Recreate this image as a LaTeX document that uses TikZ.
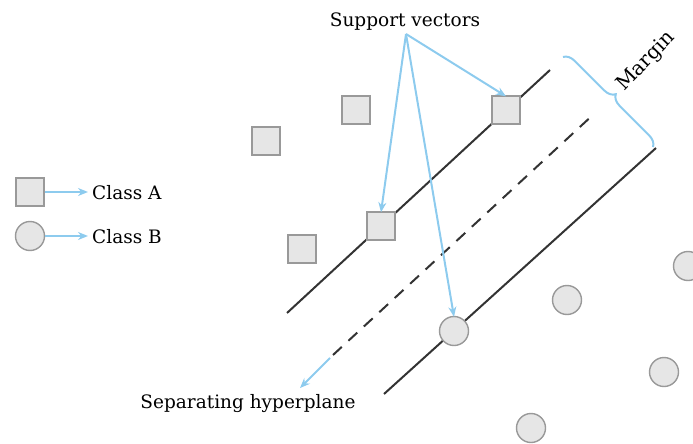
\documentclass[tikz,border=0pt]{standalone}
\usepackage{fontspec}
\setmainfont{DejaVu Serif}
\usetikzlibrary{arrows.meta,decorations.pathreplacing}
\definecolor{sky}{HTML}{8DCBEE}
\definecolor{boxfill}{HTML}{E6E6E6}
\definecolor{boxline}{HTML}{999999}
\definecolor{ink}{HTML}{333333}
\tikzset{
  sq/.style={draw=boxline, fill=boxfill, line width=1.4pt, minimum size=28pt, inner sep=0pt},
  pt/.style={circle, draw=boxline, fill=boxfill, line width=1.4pt, minimum size=29pt, inner sep=0pt},
  sepline/.style={ink, line width=2pt},
  skyarrow/.style={sky, line width=2pt, -{Stealth[length=10pt,width=8pt]}},
  lbl/.style={font=\fontsize{18.5}{20}\selectfont, text=black, inner sep=0pt}
}
\begin{document}
\begin{tikzpicture}[x=1pt,y=-1pt]
\useasboundingbox (0,0) rectangle (693,444);
% lines
\coordinate (u1) at (287,313);
\coordinate (u2) at (550,70);
\coordinate (l1) at (384,394);
\coordinate (l2) at (656,148);
\coordinate (d1) at (333,355);
\coordinate (d2) at (595,113);
\draw[sepline] (u1) -- (u2);
\draw[sepline] (l1) -- (l2);
\draw[sepline, dash pattern=on 12pt off 9pt] (d1) -- (d2);
% class A squares
\node[sq] (a1) at (266,141) {};
\node[sq] (a2) at (356,110) {};
\node[sq] (a3) at (506,110) {};
\node[sq] (a4) at (381,226) {};
\node[sq] (a5) at (302,249) {};
% class B circles
\node[pt] (b1) at (454,331) {};
\node[pt] (b2) at (567,300) {};
\node[pt] (b3) at (688,266) {};
\node[pt] (b4) at (664,372) {};
\node[pt] (b5) at (531,428) {};
% legend
\node[sq] (la) at (30,192) {};
\node[pt] (lb) at (30,236) {};
\node[lbl, anchor=base west] (ta) at (92,199) {Class A};
\node[lbl, anchor=base west] (tb) at (92,243) {Class B};
\draw[skyarrow] (la.east) -- ([xshift=-4pt]ta.west |- la.east);
\draw[skyarrow] (lb.east) -- ([xshift=-4pt]tb.west |- lb.east);
% support vectors
\node[lbl, anchor=base] (sv) at (405,27) {Support vectors};
\coordinate (svo) at (406,34);
\draw[skyarrow] (svo) -- ([yshift=-1pt]a3.north);
\draw[skyarrow] (svo) -- ([yshift=-1pt]a4.north);
\draw[skyarrow] (svo) -- ([yshift=-1pt]b1.north);
% separating hyperplane
\node[lbl, anchor=base] (sh) at (248,408) {Separating hyperplane};
\coordinate (sha) at (330,358);
\coordinate (shb) at (300,388);
\draw[skyarrow] (sha) -- (shb);
% margin brace
\coordinate (m1) at (563,57);
\coordinate (m2) at (653,147);
\draw[sky, line width=2pt, decorate, decoration={brace, amplitude=11pt}] (m1) -- (m2);
\node[lbl, font=\fontsize{20}{22}\selectfont, rotate=46, anchor=base west] (mg) at (624,92) {Margin};
\end{tikzpicture}
\end{document}
